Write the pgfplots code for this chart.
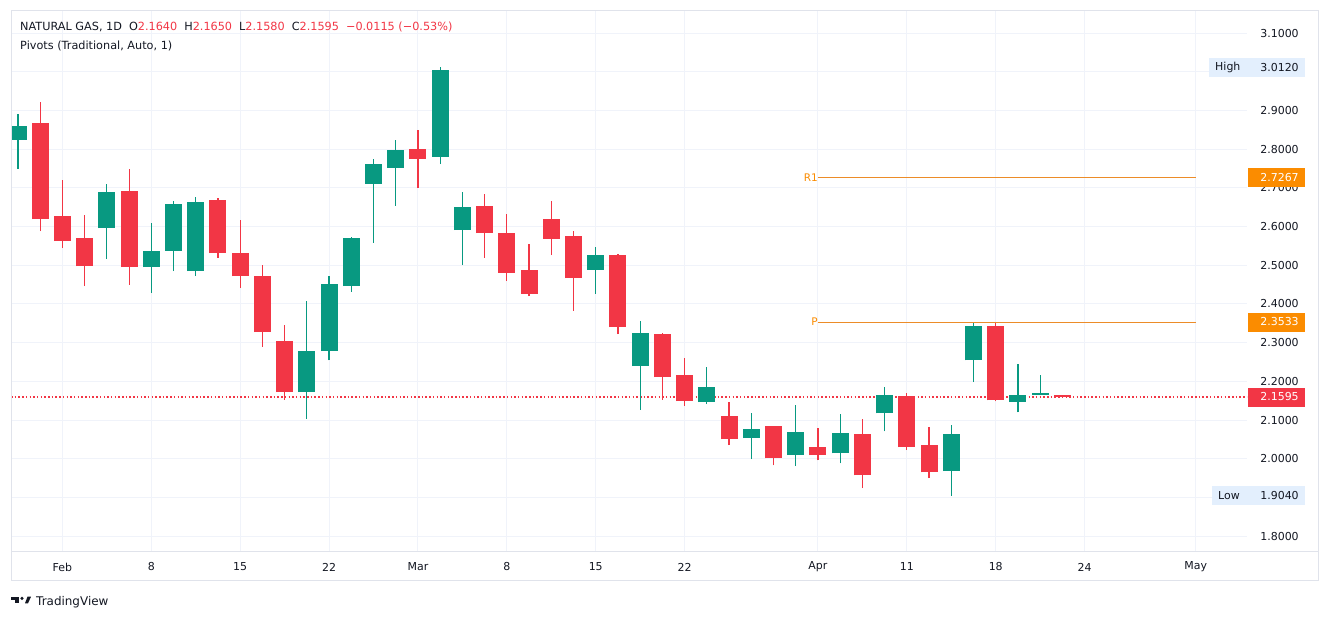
\documentclass[border=0pt]{standalone}
\usepackage{fontspec}
\setmainfont{DejaVu Sans}
\usepackage{pgfplots}
\pgfplotsset{compat=1.18}
\usepackage{pgfplotstable}

\definecolor{tvg}{RGB}{8,153,129}
\definecolor{tvr}{RGB}{242,54,69}
\definecolor{tvo}{RGB}{251,140,0}
\definecolor{tvpiv}{RGB}{236,140,40}
\definecolor{tvgrid}{RGB}{240,243,250}
\definecolor{tvborder}{RGB}{224,227,235}
\definecolor{tvtxt}{RGB}{19,23,34}
\definecolor{tvhl}{RGB}{227,239,253}

% green candles: x  body-low(open)  body-high(close)  high  low
\pgfplotstableread{
x lo hi h l
0 2.823 2.860 2.891 2.749
4 2.596 2.689 2.710 2.516
6 2.495 2.537 2.609 2.428
7 2.537 2.658 2.666 2.485
8 2.485 2.663 2.676 2.472
13 2.172 2.278 2.407 2.103
14 2.278 2.451 2.472 2.254
15 2.446 2.570 2.573 2.432
16 2.711 2.761 2.774 2.558
17 2.752 2.798 2.823 2.654
19 2.780 3.004 3.012 2.761
20 2.591 2.650 2.689 2.500
26 2.488 2.526 2.547 2.426
28 2.239 2.325 2.356 2.126
31 2.146 2.185 2.236 2.141
33 2.053 2.076 2.117 1.999
35 2.009 2.068 2.138 1.981
37 2.014 2.066 2.115 1.988
39 2.117 2.164 2.185 2.071
42 1.968 2.063 2.086 1.904
43 2.254 2.342 2.350 2.198
45 2.146 2.164 2.244 2.120
46 2.164 2.171 2.216 2.164
}\greendata

% red candles: x  body-low(close)  body-high(open)  high  low
\pgfplotstableread{
x lo hi h l
1 2.619 2.867 2.922 2.588
2 2.562 2.627 2.720 2.544
3 2.498 2.570 2.630 2.446
5 2.495 2.692 2.748 2.449
9 2.531 2.668 2.674 2.519
10 2.472 2.531 2.617 2.441
11 2.327 2.472 2.500 2.289
12 2.172 2.304 2.345 2.153
18 2.774 2.800 2.849 2.700
21 2.583 2.653 2.684 2.519
22 2.480 2.583 2.632 2.459
23 2.426 2.488 2.555 2.420
24 2.568 2.619 2.666 2.526
25 2.467 2.575 2.588 2.382
27 2.340 2.526 2.529 2.322
29 2.211 2.322 2.325 2.152
30 2.149 2.216 2.260 2.136
32 2.050 2.110 2.146 2.035
34 2.001 2.084 2.084 1.983
36 2.009 2.030 2.079 1.996
38 1.957 2.063 2.102 1.924
40 2.030 2.161 2.169 2.022
41 1.965 2.035 2.081 1.950
44 2.151 2.342 2.350 2.148
47 2.1595 2.164 2.165 2.158
}\reddata

\begin{document}
\begin{tikzpicture}[x=1bp,y=1bp]
\path[use as bounding box] (0,0) rectangle (1329,621);
\fill[white] (0,0) rectangle (1329,621);
\begin{axis}[
  at={(11bp,69bp)}, anchor=south west,
  scale only axis, width=1236bp, height=541bp,
  xmin=-0.315, xmax=55.31, ymin=1.759, ymax=3.157,
  axis line style={draw=none},
  major tick length=0pt,
  xtick={2,6,10,14,18,22,26,30,36,40,44,48,53},
  xticklabels={Feb,8,15,22,Mar,8,15,22,Apr,11,18,24,May},
  ytick={1.8,2.0,2.1,2.2,2.3,2.4,2.5,2.6,2.7,2.8,2.9,3.1},
  extra y ticks={1.9,3.0},
  extra y tick labels={},
  extra y tick style={grid=major, major grid style={draw=tvgrid, line width=1bp}},
  grid=major,
  major grid style={draw=tvgrid, line width=1bp},
  yticklabel pos=right,
  tick label style={font=\fontsize{11}{13}\selectfont, text=tvtxt},
  yticklabel style={anchor=center, xshift=32.5bp,
    /pgf/number format/.cd, fixed, fixed zerofill, precision=4, assume math mode=true},
  xticklabel style={anchor=center, yshift=-15bp},
  clip=true,
]
% last price line (behind the candles)
\addplot[tvr, line width=1.1bp, dash pattern=on 1.5bp off 2.2bp] coordinates {(-0.315,2.1595) (55.31,2.1595)};
% pivots
\addplot[tvpiv, line width=0.9bp] coordinates {(36,2.7267) (53,2.7267)};
\addplot[tvpiv, line width=0.9bp] coordinates {(36,2.3533) (53,2.3533)};
% wicks
\addplot[draw=none, mark=none, error bars/.cd, y dir=plus, y explicit, error mark=none,
  error bar style={draw=tvg, line width=1.2bp}]
  table[x=x, y=l, y error expr=\thisrow{h}-\thisrow{l}] {\greendata};
\addplot[draw=none, mark=none, error bars/.cd, y dir=plus, y explicit, error mark=none,
  error bar style={draw=tvr, line width=1.2bp}]
  table[x=x, y=l, y error expr=\thisrow{h}-\thisrow{l}] {\reddata};
% bodies
\addplot[draw=none, mark=none, error bars/.cd, y dir=plus, y explicit, error mark=none,
  error bar style={draw=tvg, line width=17bp, line cap=butt}]
  table[x=x, y=lo, y error expr=\thisrow{hi}-\thisrow{lo}] {\greendata};
\addplot[draw=none, mark=none, error bars/.cd, y dir=plus, y explicit, error mark=none,
  error bar style={draw=tvr, line width=17bp, line cap=butt}]
  table[x=x, y=lo, y error expr=\thisrow{hi}-\thisrow{lo}] {\reddata};
\node[anchor=east, text=tvo, font=\fontsize{10.5}{12}\selectfont, inner sep=0pt] at (axis cs:36,2.7267) {R1\hspace{5bp}};
\node[anchor=east, text=tvo, font=\fontsize{10.5}{12}\selectfont, inner sep=0pt] at (axis cs:36,2.3533) {P\hspace{5bp}};
\coordinate (cH) at (axis cs:55.31,3.012);
\coordinate (cL) at (axis cs:55.31,1.904);
\coordinate (cR) at (axis cs:55.31,2.7267);
\coordinate (cP) at (axis cs:55.31,2.3533);
\coordinate (cC) at (axis cs:55.31,2.1595);
\end{axis}
% frame
\draw[tvborder, line width=1bp] (11,40) rectangle (1318,610);
\draw[tvborder, line width=1bp] (11,69) -- (1318,69);
% price boxes
\def\lblfont{\fontsize{11}{13}\selectfont}
\fill[tvhl] ([xshift=-38bp,yshift=-9.5bp]cH) rectangle ([xshift=58bp,yshift=9.5bp]cH);
\node[anchor=west, text=tvtxt, font=\lblfont, inner sep=0pt] at ([xshift=-32bp]cH) {High};
\node[text=tvtxt, font=\lblfont] at ([xshift=32.5bp]cH) {3.0120};
\fill[tvhl] ([xshift=-35bp,yshift=-9.5bp]cL) rectangle ([xshift=58bp,yshift=9.5bp]cL);
\node[anchor=west, text=tvtxt, font=\lblfont, inner sep=0pt] at ([xshift=-29bp]cL) {Low};
\node[text=tvtxt, font=\lblfont] at ([xshift=32.5bp]cL) {1.9040};
\fill[tvo] ([xshift=1bp,yshift=-9.5bp]cR) rectangle ([xshift=58bp,yshift=9.5bp]cR);
\node[text=white, font=\lblfont] at ([xshift=32.5bp]cR) {2.7267};
\fill[tvo] ([xshift=1bp,yshift=-9.5bp]cP) rectangle ([xshift=58bp,yshift=9.5bp]cP);
\node[text=white, font=\lblfont] at ([xshift=32.5bp]cP) {2.3533};
\fill[tvr] ([xshift=1bp,yshift=-9.5bp]cC) rectangle ([xshift=58bp,yshift=9.5bp]cC);
\node[text=white, font=\lblfont] at ([xshift=32.5bp]cC) {2.1595};
% title lines
\node[anchor=west, inner sep=0pt, text=tvtxt, font=\fontsize{11.3}{13}\selectfont] at (20,594)
 {NATURAL GAS, 1D\hspace{7bp}O\textcolor{tvr}{2.1640}\hspace{7bp}H\textcolor{tvr}{2.1650}\hspace{7bp}L\textcolor{tvr}{2.1580}\hspace{7bp}C\textcolor{tvr}{2.1595}\hspace{7bp}\textcolor{tvr}{−0.0115 (−0.53\%)}};
\node[anchor=west, inner sep=0pt, text=tvtxt, font=\fontsize{11.3}{13}\selectfont] at (20,575)
 {Pivots (Traditional, Auto, 1)};
% TradingView logo
\fill[tvtxt] (11,21) rectangle (19,24.3);
\fill[tvtxt] (15,17.7) rectangle (19,24.3);
\fill[tvtxt] (22,22.6) circle (1.7);
\fill[tvtxt] (25,17.7) -- (28,17.7) -- (31,24.3) -- (27.5,24.3) -- cycle;
\node[anchor=west, inner sep=0pt, text=tvtxt, font=\fontsize{12}{14}\selectfont] at (36,19) {TradingView};
\end{tikzpicture}
\end{document}
